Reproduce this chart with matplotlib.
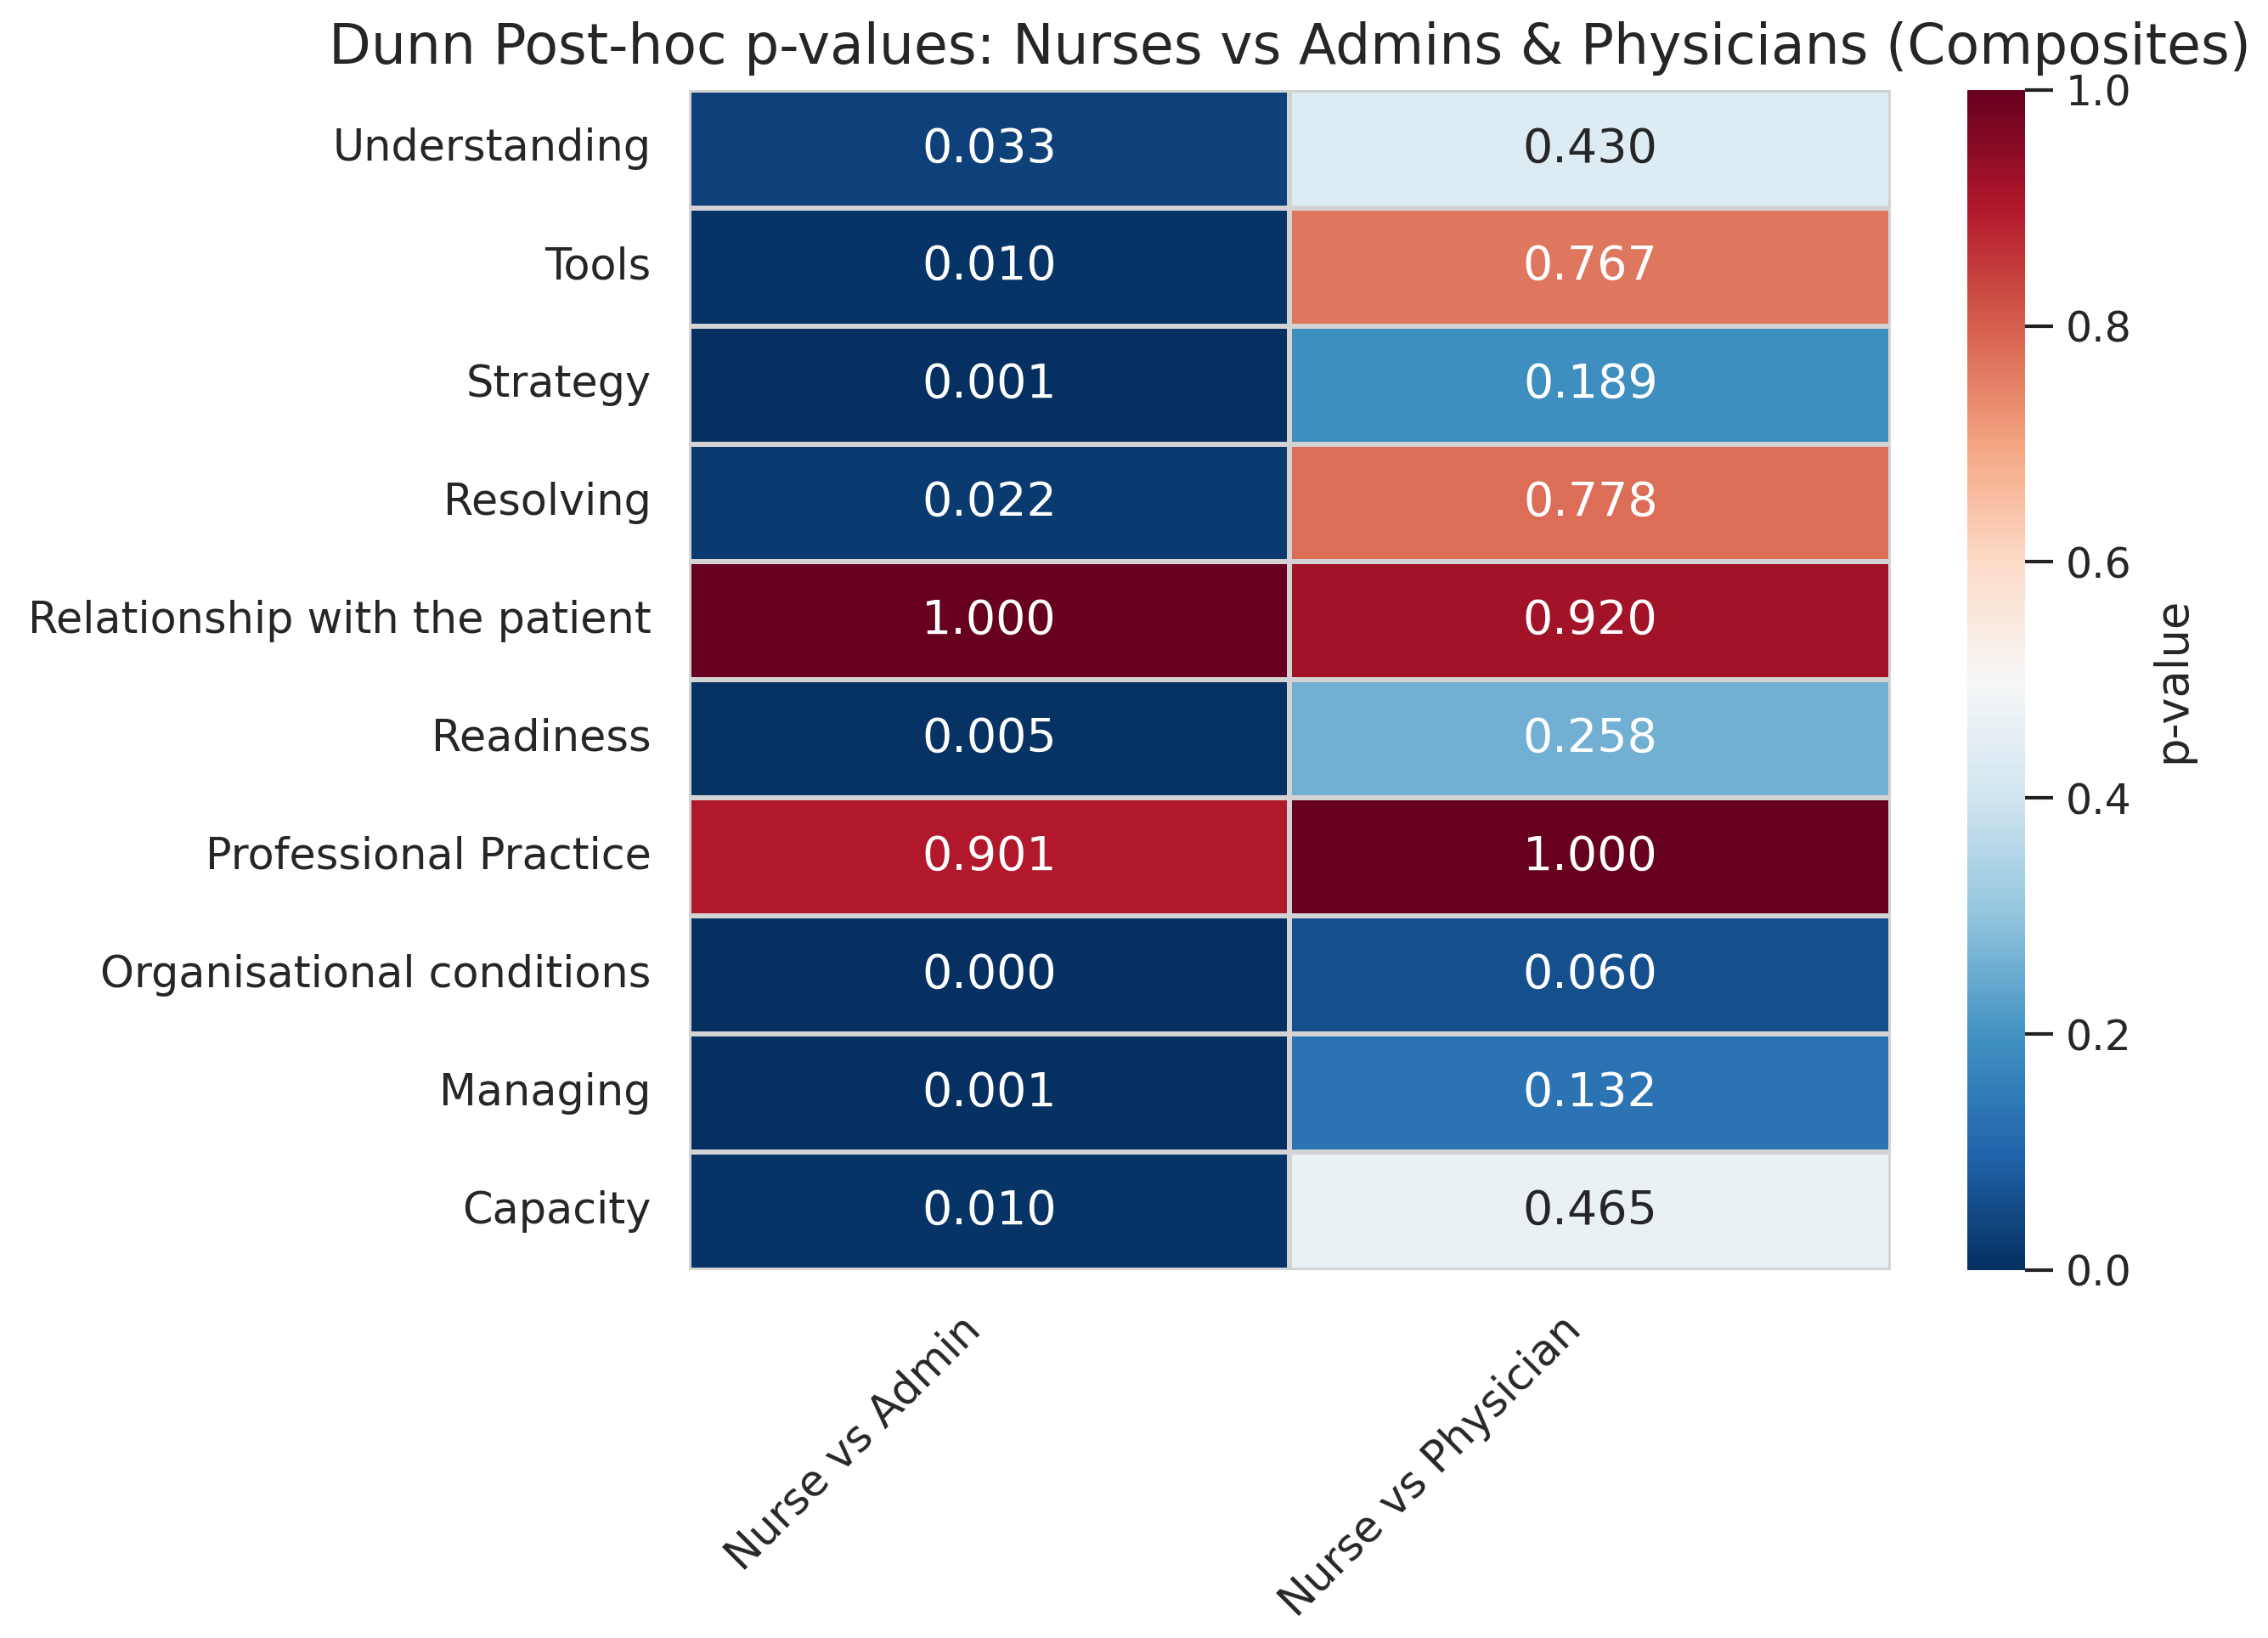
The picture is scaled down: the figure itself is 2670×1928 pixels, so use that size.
import numpy as np
import pandas as pd
import matplotlib
matplotlib.use("Agg")
import matplotlib.pyplot as plt
import seaborn as sns

# composites, top to bottom as shown
composites = [
    "Understanding",
    "Tools",
    "Strategy",
    "Resolving",
    "Relationship with the patient",
    "Readiness",
    "Professional Practice",
    "Organisational conditions",
    "Managing",
    "Capacity",
]
comparisons = ["Nurse vs Admin", "Nurse vs Physician"]

nurse_vs_admin = [0.033, 0.010, 0.001, 0.022, 1.000, 0.005, 0.901, 0.000, 0.001, 0.010]
nurse_vs_physician = [0.430, 0.767, 0.189, 0.778, 0.920, 0.258, 1.000, 0.060, 0.132, 0.465]

df = pd.DataFrame({comparisons[0]: nurse_vs_admin,
                   comparisons[1]: nurse_vs_physician}, index=composites)

sns.set_theme(style="whitegrid")
plt.rcParams['font.family'] = ['DejaVu Sans']

fig = plt.figure(figsize=(13.35, 9.64), dpi=200)
ax = fig.add_axes([0.3037, 0.2246, 0.530, 0.7205])
cax = fig.add_axes([0.8674, 0.2246, 0.0255, 0.7205])

sns.heatmap(df, ax=ax, cbar_ax=cax, cmap="RdBu_r", vmin=0, vmax=1,
            annot=True, fmt=".3f", annot_kws={"size": 20},
            linewidths=1.5, linecolor="lightgray",
            cbar_kws={"label": "p-value"})

ax.set_title("Dunn Post-hoc p-values: Nurses vs Admins & Physicians (Composites)",
             fontsize=23.3, pad=11)
ax.tick_params(axis='y', labelsize=18.3, rotation=0, pad=10)
ax.tick_params(axis='x', labelsize=18.3, pad=10)
plt.setp(ax.get_xticklabels(), rotation=45, ha='right')

cax.tick_params(labelsize=17.6, length=12, width=1.5, color='#222222', pad=5)
cax.set_ylabel("p-value", fontsize=19, labelpad=8)

fig.savefig("out.png", dpi=200)
